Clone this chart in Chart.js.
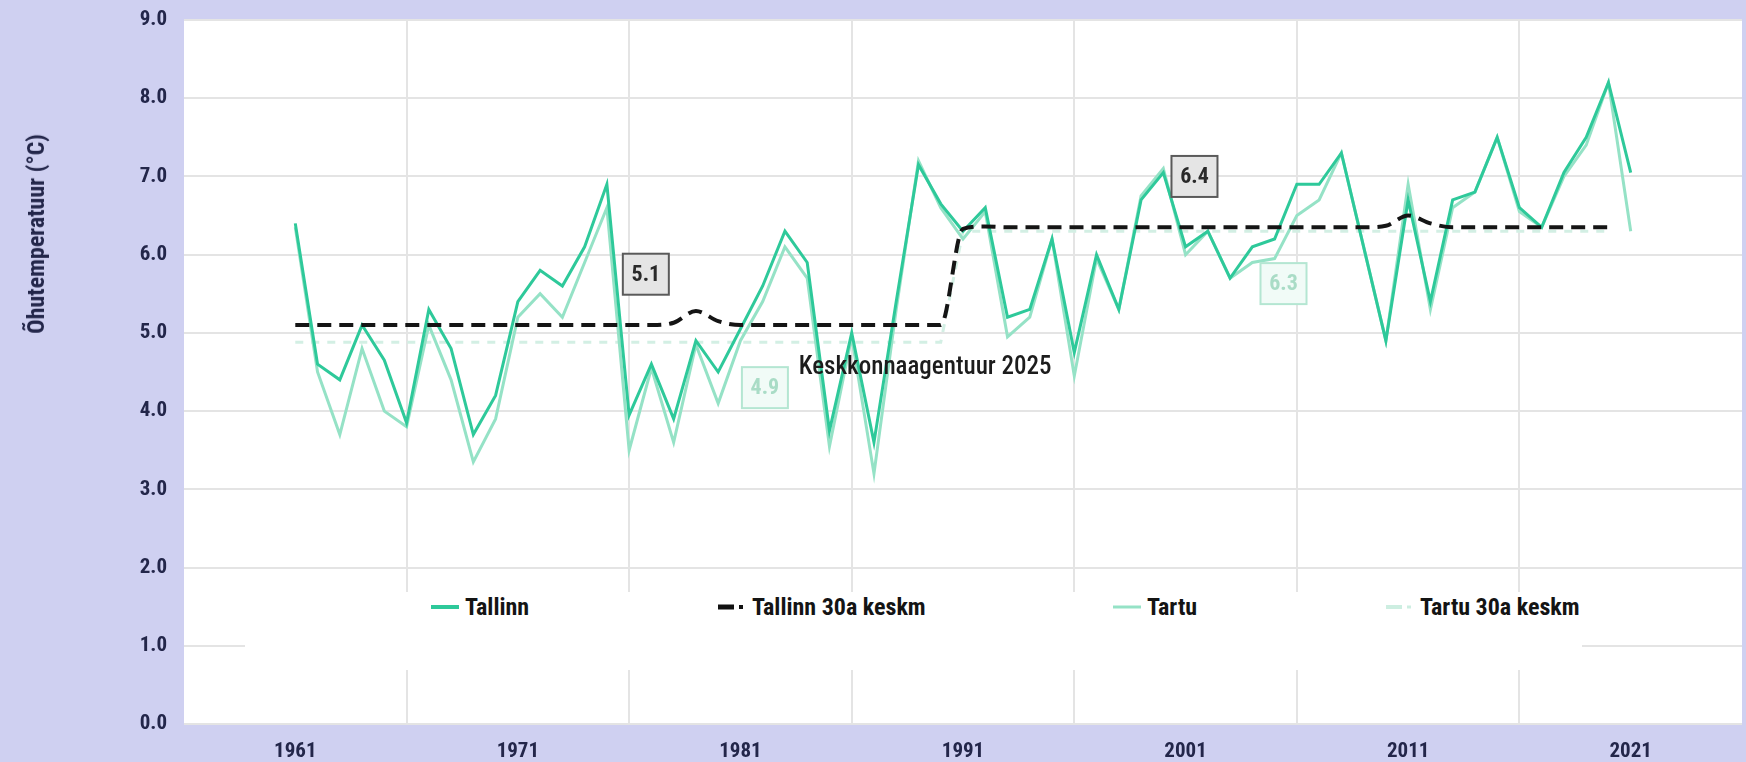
<!DOCTYPE html>
<html lang="et">
<head>
<meta charset="utf-8">
<title>Õhutemperatuur Tallinnas ja Tartus</title>
<script src="https://cdn.jsdelivr.net/npm/chart.js@4.4.1/dist/chart.umd.min.js"></script>
<style>
  html, body { margin: 0; padding: 0; background: #cfd0f1; }
  #wrap { position: relative; width: 1746px; height: 762px; }
  #yTitle {
    position: absolute; left: 36px; top: 234px;
    transform: translate(-50%, -50%) rotate(-90deg);
    white-space: nowrap; color: #23264a;
    font-family: Roboto, 'DejaVu Sans Condensed', sans-serif;
    font-size: 24px; font-weight: bold; font-stretch: condensed;
  }
  #legend { position: absolute; left: 245px; top: 592px; width: 1337px; height: 78px; background: #fff; }
  .item {
    position: absolute; top: 0; height: 30px; display: flex; align-items: center; white-space: nowrap;
    font-family: Roboto, 'DejaVu Sans Condensed', sans-serif;
    font-size: 24px; font-weight: bold; font-stretch: condensed; color: #141414;
  }
  .item svg { margin-right: 6px; }
</style>
</head>
<body>
<div id="wrap">
  <canvas id="tempChart" width="1746" height="762"></canvas>
  <div id="yTitle">Õhutemperatuur (°C)</div>
  <div id="legend">
    <div class="item" style="left:186px"><svg width="28" height="10"><line x1="0" y1="5" x2="28" y2="5" stroke="#2ec99a" stroke-width="4"/></svg>Tallinn</div>
    <div class="item" style="left:473px"><svg width="28" height="10"><line x1="0" y1="5" x2="16" y2="5" stroke="#111" stroke-width="5"/><line x1="21" y1="5" x2="25" y2="5" stroke="#111" stroke-width="4"/></svg>Tallinn 30a keskm</div>
    <div class="item" style="left:868px"><svg width="28" height="10"><line x1="0" y1="5" x2="28" y2="5" stroke="#95e2c6" stroke-width="3"/></svg>Tartu</div>
    <div class="item" style="left:1141px"><svg width="28" height="10"><line x1="0" y1="5" x2="16" y2="5" stroke="#cdeee1" stroke-width="4"/><line x1="21" y1="5" x2="25" y2="5" stroke="#cdeee1" stroke-width="3"/></svg>Tartu 30a keskm</div>
  </div>
</div>
<script>
// data
const years = [1961,1962,1963,1964,1965,1966,1967,1968,1969,1970,
  1971,1972,1973,1974,1975,1976,1977,1978,1979,1980,
  1981,1982,1983,1984,1985,1986,1987,1988,1989,1990,
  1991,1992,1993,1994,1995,1996,1997,1998,1999,2000,
  2001,2002,2003,2004,2005,2006,2007,2008,2009,2010,
  2011,2012,2013,2014,2015,2016,2017,2018,2019,2020,2021];

const tallinn = [6.4,4.6,4.4,5.1,4.65,3.85,5.3,4.8,3.7,4.2,
  5.4,5.8,5.6,6.1,6.9,3.95,4.6,3.9,4.9,4.5,
  5.05,5.6,6.3,5.9,3.75,5.0,3.6,5.4,7.15,6.65,
  6.3,6.6,5.2,5.3,6.2,4.75,6.0,5.3,6.7,7.05,
  6.1,6.3,5.7,6.1,6.2,6.9,6.9,7.3,6.1,4.9,
  6.7,5.4,6.7,6.8,7.5,6.6,6.35,7.05,7.5,8.2,7.05];

const tartu = [6.35,4.5,3.7,4.8,4.0,3.8,5.1,4.4,3.35,3.9,
  5.2,5.5,5.2,5.9,6.6,3.5,4.55,3.6,4.85,4.1,
  4.9,5.4,6.1,5.7,3.55,4.95,3.2,5.3,7.2,6.6,
  6.2,6.55,4.95,5.2,6.2,4.45,5.95,5.3,6.75,7.1,
  6.0,6.3,5.7,5.9,5.95,6.5,6.7,7.3,6.1,4.9,
  6.9,5.3,6.6,6.8,7.5,6.55,6.35,7.0,7.4,8.2,6.3];

const tallinn30 = [5.1,5.1,5.1,5.1,5.1,5.1,5.1,5.1,5.1,5.1,
  5.1,5.1,5.1,5.1,5.1,5.1,5.1,5.13,5.28,5.15,
  5.1,5.1,5.1,5.1,5.1,5.1,5.1,5.1,5.1,5.1,
  6.33,6.36,6.35,6.35,6.35,6.35,6.35,6.35,6.35,6.35,
  6.35,6.35,6.35,6.35,6.35,6.35,6.35,6.35,6.35,6.37,
  6.5,6.4,6.35,6.35,6.35,6.35,6.35,6.35,6.35,6.35,null];

const tartu30 = [4.88,4.88,4.88,4.88,4.88,4.88,4.88,4.88,4.88,4.88,
  4.88,4.88,4.88,4.88,4.88,4.88,4.88,4.88,4.88,4.88,
  4.88,4.88,4.88,4.88,4.88,4.88,4.88,4.88,4.88,4.88,
  6.3,6.3,6.3,6.3,6.3,6.3,6.3,6.3,6.3,6.3,
  6.3,6.3,6.3,6.3,6.3,6.3,6.3,6.3,6.3,6.3,
  6.3,6.3,6.3,6.3,6.3,6.3,6.3,6.3,6.3,6.3,null];

const xTicks = [1961, 1971, 1981, 1991, 2001, 2011, 2021];
const yTicks = [0, 1, 2, 3, 4, 5, 6, 7, 8, 9];

const fam = "Roboto, 'DejaVu Sans Condensed', sans-serif";

function pts(arr){ return arr.map((v, i) => ({x: years[i], y: v})); }

// boxed averages + source text, placed in data units
const notes = [
  {text: '5.1', x: 1976.75, y: 5.75, fill: '#e5e5e5', stroke: '#5a5a5a', color: '#2a2a2a'},
  {text: '4.9', x: 1982.1, y: 4.3, fill: '#f1fbf7', stroke: '#b4e6d2', color: '#a9dcc6'},
  {text: '6.4', x: 2001.4, y: 7.0, fill: '#e5e5e5', stroke: '#5a5a5a', color: '#2a2a2a'},
  {text: '6.3', x: 2005.4, y: 5.63, fill: '#f1fbf7', stroke: '#b4e6d2', color: '#a9dcc6'}
];

const plotBg = {
  id: 'plotBg',
  beforeDraw(chart){
    const {ctx, chartArea: a} = chart;
    ctx.save();
    ctx.fillStyle = '#ffffff';
    ctx.fillRect(a.left, a.top, a.right - a.left, a.bottom - a.top);
    ctx.restore();
  },
  afterDraw(chart){
    const ctx = chart.ctx, sx = chart.scales.x, sy = chart.scales.y;
    ctx.save();
    notes.forEach(n => {
      const cx = sx.getPixelForValue(n.x), cy = sy.getPixelForValue(n.y);
      const w = 46, h = 41;
      ctx.fillStyle = n.fill;
      ctx.fillRect(cx - w/2, cy - h/2, w, h);
      ctx.lineWidth = 2;
      ctx.strokeStyle = n.stroke;
      ctx.strokeRect(cx - w/2, cy - h/2, w, h);
      ctx.fillStyle = n.color;
      ctx.font = 'bold condensed 22px ' + fam;
      ctx.textAlign = 'center';
      ctx.textBaseline = 'middle';
      ctx.fillText(n.text, cx, cy + 1);
    });
    ctx.fillStyle = '#1c1c1c';
    ctx.font = '500 condensed 25px ' + fam;
    ctx.textAlign = 'center';
    ctx.textBaseline = 'middle';
    ctx.fillText('Keskkonnaagentuur 2025', sx.getPixelForValue(1989.3), sy.getPixelForValue(4.55));
    ctx.restore();
  }
};

new Chart(document.getElementById('tempChart').getContext('2d'), {
  type: 'line',
  data: {
    datasets: [
      {label: 'Tallinn 30a keskm', data: pts(tallinn30), borderColor: '#151515', borderWidth: 4,
        borderDash: [14, 8], cubicInterpolationMode: 'monotone', pointRadius: 0},
      {label: 'Tallinn', data: pts(tallinn), borderColor: '#2ec99a', borderWidth: 3, tension: 0, pointRadius: 0},
      {label: 'Tartu', data: pts(tartu), borderColor: '#95e2c6', borderWidth: 3, tension: 0, pointRadius: 0},
      {label: 'Tartu 30a keskm', data: pts(tartu30), borderColor: '#d3efe4', borderWidth: 3,
        borderDash: [8, 8], pointRadius: 0}
    ]
  },
  options: {
    responsive: false,
    animation: false,
    devicePixelRatio: 1,
    layout: {padding: {top: 20, right: 4, left: 0, bottom: 0}},
    plugins: {legend: {display: false}, tooltip: {enabled: false}},
    scales: {
      x: {
        type: 'linear', min: 1956, max: 2026,
        afterBuildTicks: s => { s.ticks = xTicks.map(v => ({value: v})); },
        afterFit: s => { s.height = 38; s.paddingLeft = 0; s.paddingRight = 0; },
        grid: {offset: true, drawTicks: false, lineWidth: 2,
          color: c => (c.type === 'tick' && c.index > 0) ? '#e4e4e4' : 'rgba(0,0,0,0)'},
        border: {display: false},
        ticks: {padding: 15, color: '#23264a', maxRotation: 0, autoSkip: false,
          font: {family: fam, size: 21, weight: 'bold condensed'}, callback: v => String(v)}
      },
      y: {
        min: 0, max: 9,
        afterBuildTicks: s => { s.ticks = yTicks.map(v => ({value: v})); },
        afterFit: s => { s.width = 184; s.paddingTop = 0; s.paddingBottom = 0; },
        grid: {drawTicks: false, lineWidth: 2, color: '#e4e4e4'},
        border: {display: false},
        ticks: {padding: 17, color: '#23264a',
          font: {family: fam, size: 21, weight: 'bold condensed'}, callback: v => Number(v).toFixed(1)}
      }
    }
  },
  plugins: [plotBg]
});
</script>
</body>
</html>
